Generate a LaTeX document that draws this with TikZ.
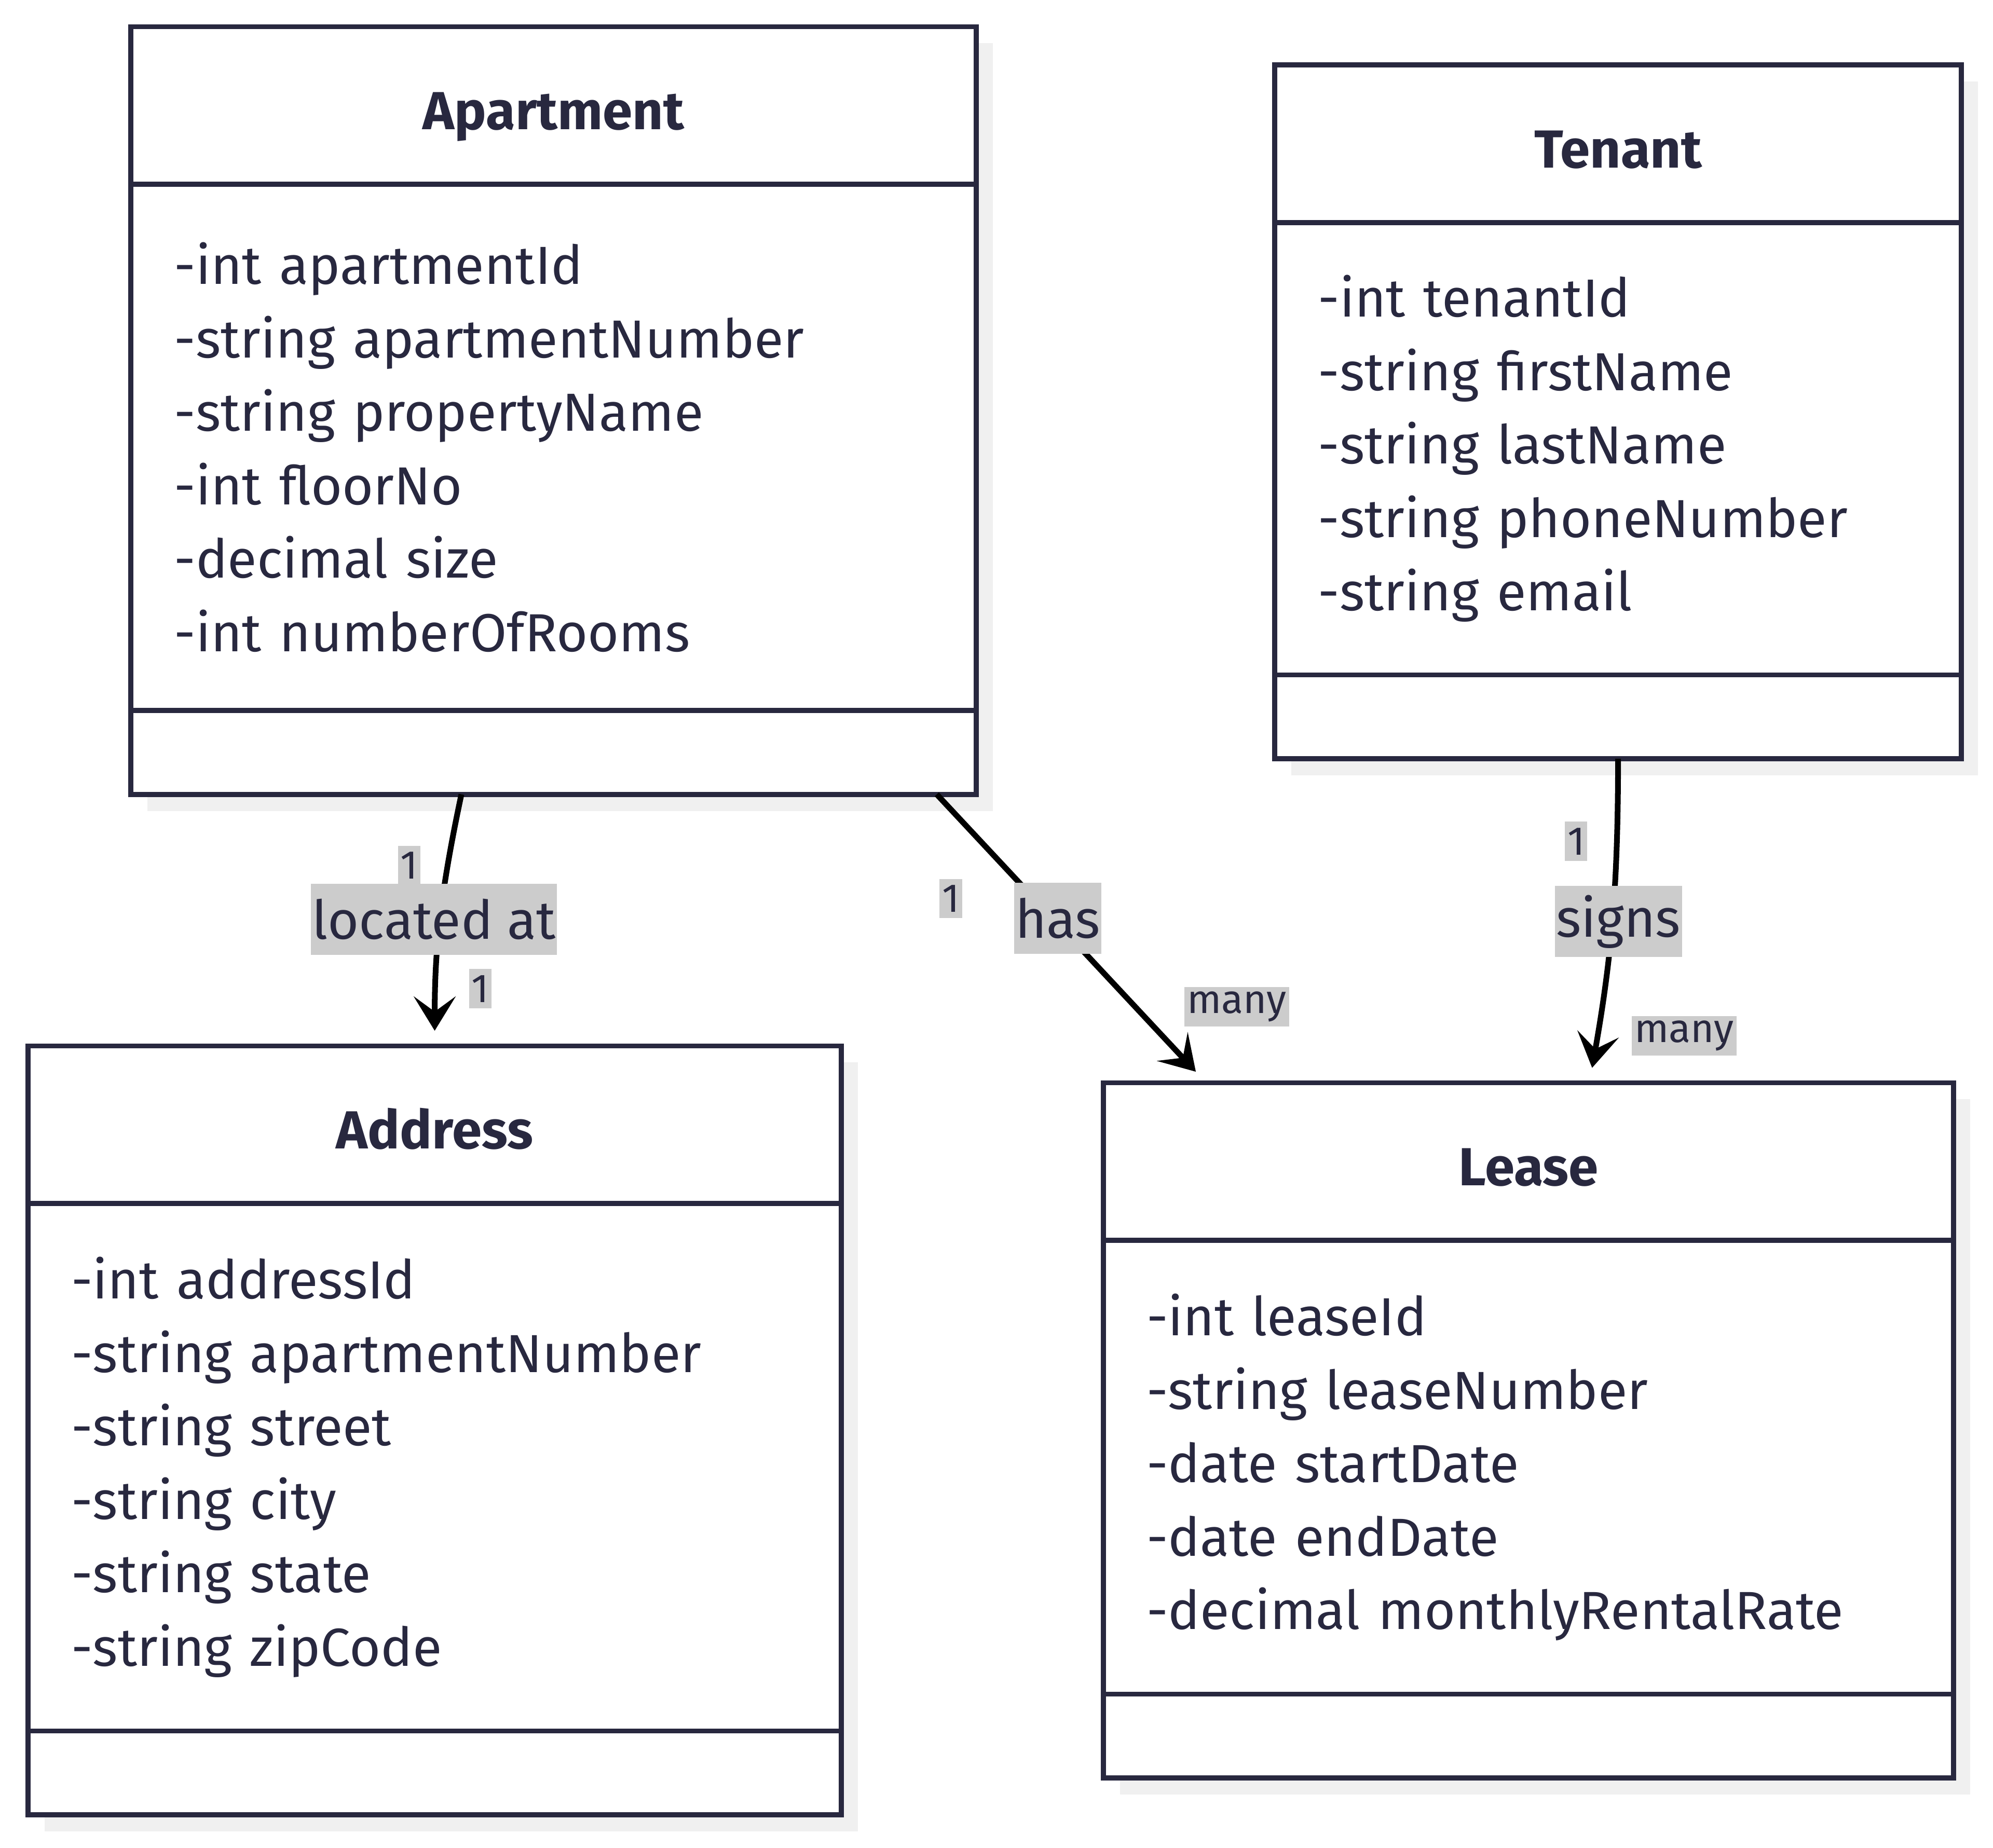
\documentclass[tikz,border=0pt]{standalone}
\usepackage{fontspec}
\setmainfont{Fira Sans}
\usetikzlibrary{positioning,arrows.meta}
\definecolor{ink}{HTML}{28283F}
\definecolor{lblgray}{HTML}{CCCCCC}
\definecolor{shadowgray}{HTML}{F0F0F0}
\pgfdeclarelayer{background}
\pgfsetlayers{background,main}

\begin{document}
\begin{tikzpicture}[
    node distance=0pt,
    part/.style={rectangle, draw=ink, line width=0.04cm, fill=white, outer sep=0pt, inner sep=0pt, text=ink},
    head/.style={part, minimum height=1.24cm, text height=0.38cm, text depth=0pt, font=\fontsize{12}{14}\selectfont\bfseries},
    attrs/.style={part, align=left, inner xsep=0.34cm, font=\fontsize{12}{16.44}\selectfont},
    meth/.style={part, minimum height=0.66cm},
    rel/.style={-{Stealth[length=0.27cm, width=0.33cm, inset=0.12cm]}, line width=0.045cm, black},
    lbl/.style={fill=lblgray, text=ink, inner xsep=0.01cm, inner ysep=0pt, minimum height=0.56cm, font=\fontsize{12}{14}\selectfont},
    card/.style={fill=lblgray, text=ink, inner xsep=0.02cm, inner ysep=0pt, minimum height=0.31cm, font=\fontsize{9}{10}\selectfont}
]

\useasboundingbox (0,0) rectangle (15.68,-14.54);

\node[head, minimum width=6.65cm, anchor=north west] (apt) at (1.03,-0.21) {Apartment};
\node[attrs, text width=5.97cm, minimum height=4.14cm, below=of apt] (aptattr) {-int apartmentId\\-string apartmentNumber\\-string propertyName\\-int floorNo\\-decimal size\\-int numberOfRooms};
\node[meth, minimum width=6.65cm, below=of aptattr] (aptm) {};

\node[head, minimum width=5.40cm, anchor=north west] (tnt) at (10.03,-0.51) {Tenant};
\node[attrs, text width=4.72cm, minimum height=3.56cm, below=of tnt] (tntattr) {-int tenantId\\-string firstName\\-string lastName\\-string phoneNumber\\-string email};
\node[meth, minimum width=5.40cm, below=of tntattr] (tntm) {};

\node[head, minimum width=6.40cm, anchor=north west] (adr) at (0.22,-8.23) {Address};
\node[attrs, text width=5.72cm, minimum height=4.15cm, below=of adr] (adrattr) {-int addressId\\-string apartmentNumber\\-string street\\-string city\\-string state\\-string zipCode};
\node[meth, minimum width=6.40cm, below=of adrattr] (adrm) {};

\node[head, minimum width=6.69cm, anchor=north west] (lse) at (8.68,-8.52) {Lease};
\node[attrs, text width=6.01cm, minimum height=3.57cm, below=of lse] (lseattr) {-int leaseId\\-string leaseNumber\\-date startDate\\-date endDate\\-decimal monthlyRentalRate};
\node[meth, minimum width=6.69cm, below=of lseattr] (lsem) {};

\begin{pgfonlayer}{background}
\foreach \top/\bot in {apt/aptm, tnt/tntm, adr/adrm, lse/lsem}
    \fill[shadowgray] ([shift={(0.13,-0.13)}]\top.north west) rectangle ([shift={(0.13,-0.13)}]\bot.south east);
\end{pgfonlayer}

\draw[rel, shorten >=0.12cm] ([xshift=-0.725cm]aptm.south) to[out=-102, in=90] node[lbl, xshift=-0.05cm] {located at} (adr.north);
\draw[rel, shorten >=0.12cm] ([xshift=3.015cm]aptm.south) -- node[lbl, pos=0.43, xshift=0.04cm] {has} ([xshift=-2.535cm]lse.north);
\draw[rel, shorten >=0.12cm] (tntm.south) to[out=-90, in=80] node[lbl, xshift=0.05cm] {signs} ([xshift=0.48cm]lse.north);

\node[card] (aptadr1) at (3.22,-6.81) {1};
\node[card] (aptadr2) at (3.78,-7.78) {1};
\node[card] (aptlse1) at (7.48,-7.07) {1};
\node[card] (aptlse2) at (9.73,-7.92) {many};
\node[card] (tntlse1) at (12.40,-6.62) {1};
\node[card] (tntlse2) at (13.25,-8.15) {many};

\end{tikzpicture}
\end{document}
